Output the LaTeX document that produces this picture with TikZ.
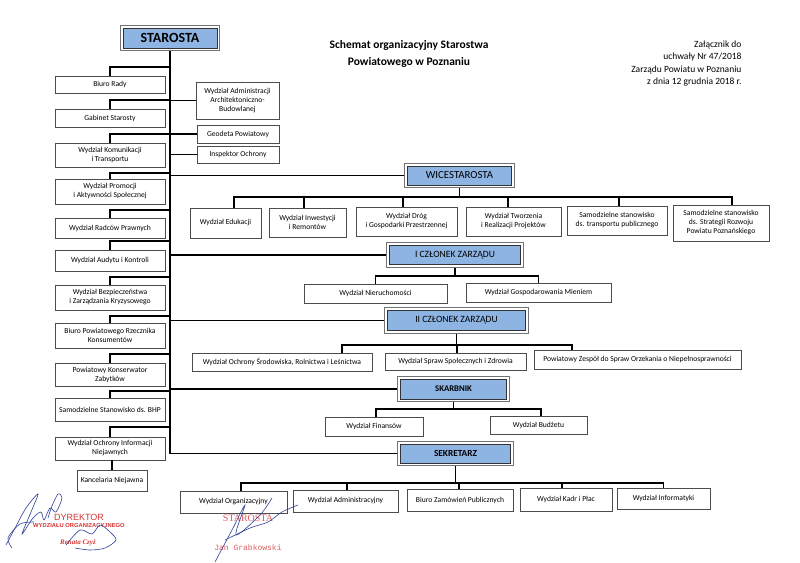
\documentclass[tikz,border=0pt]{standalone}
\usepackage{fontspec}
\setmainfont{Carlito}
\newfontfamily\stampfont{Liberation Sans}
\newfontfamily\stampserif{Liberation Serif}
\newfontfamily\stamptype{Liberation Mono}
\usetikzlibrary{fit}
\definecolor{headblue}{RGB}{142,180,227}
\definecolor{stampred}{RGB}{214,52,52}
\definecolor{ink}{RGB}{45,65,150}
\newcommand{\unitsize}{\fontsize{7.6}{9}\selectfont}
\tikzstyle{unit} = [rectangle, draw=black!70, line width=0.6pt, align=center, font=\unitsize, inner sep=1pt]
\tikzstyle{head} = [rectangle, fill=headblue, draw=black!80, line width=0.6pt, inner sep=0pt]
\tikzstyle{frame} = [rectangle, draw=black!55, line width=0.8pt, inner sep=2.5pt]
\tikzstyle{link} = [line width=1.5pt]

\begin{document}
\begin{tikzpicture}[x=1pt, y=-1pt]
\useasboundingbox (0,0) rectangle (800,562);

% title and annex note
\node (title) [align=center, font=\bfseries\fontsize{11.5}{17}\selectfont] at (409,53.5) {Schemat organizacyjny Starostwa\\Powiatowego w Poznaniu};
\node (annex) [anchor=east, align=right, font=\fontsize{9.5}{12.3}\selectfont] at (745,63.5) {Załącznik do\\uchwały Nr 47/2018\\Zarządu Powiatu w Poznaniu\\z dnia 12 grudnia 2018 r.};

% heads
\node (starosta) [head, minimum width=94, minimum height=20, font=\bfseries\fontsize{14}{14}\selectfont] at (170,38) {STAROSTA};
\node (starostaframe) [frame, fit=(starosta)] {};
\node (wice) [head, minimum width=104, minimum height=19, font=\fontsize{10.8}{10.8}\selectfont] at (459.5,175.5) {WICESTAROSTA};
\node (wiceframe) [frame, fit=(wice)] {};
\node (czlonekI) [head, minimum width=131, minimum height=19, font=\fontsize{9.6}{9.6}\selectfont] at (455,255) {I CZŁONEK ZARZĄDU};
\node (czlonekIframe) [frame, fit=(czlonekI)] {};
\node (czlonekII) [head, minimum width=138, minimum height=20, font=\fontsize{9.6}{9.6}\selectfont] at (456.5,320.5) {II CZŁONEK ZARZĄDU};
\node (czlonekIIframe) [frame, fit=(czlonekII)] {};
\node (skarbnik) [head, minimum width=106, minimum height=20, font=\bfseries\fontsize{8.7}{8.7}\selectfont] at (453.5,389) {SKARBNIK};
\node (skarbnikframe) [frame, fit=(skarbnik)] {};
\node (sekretarz) [head, minimum width=110, minimum height=19, font=\bfseries\fontsize{9.3}{9.3}\selectfont] at (455.5,453.5) {SEKRETARZ};
\node (sekretarzframe) [frame, fit=(sekretarz)] {};

% left column
\node (biuro) [unit, minimum width=110, minimum height=17] at (110,84.5) {Biuro Rady};
\node (gabinet) [unit, minimum width=110, minimum height=18] at (110,118) {Gabinet Starosty};
\node (komunikacja) [unit, minimum width=110, minimum height=24] at (110,155) {Wydział Komunikacji\\i Transportu};
\node (promocja) [unit, minimum width=110, minimum height=25] at (110,191.5) {Wydział Promocji\\i Aktywności Społecznej};
\node (radcy) [unit, minimum width=110, minimum height=20] at (110,228) {Wydział Radców Prawnych};
\node (audyt) [unit, minimum width=110, minimum height=21] at (110,260.5) {Wydział Audytu i Kontroli};
\node (bezpieczenstwo) [unit, minimum width=110, minimum height=25] at (110,297.5) {Wydział Bezpieczeństwa\\i Zarządzania Kryzysowego};
\node (rzecznik) [unit, minimum width=110, minimum height=25] at (110,335.5) {Biuro Powiatowego Rzecznika\\Konsumentów};
\node (konserwator) [unit, minimum width=110, minimum height=23] at (110,374.5) {Powiatowy Konserwator\\Zabytków};
\node (bhp) [unit, minimum width=110, minimum height=23] at (110,409.5) {Samodzielne Stanowisko ds. BHP};
\node (niejawne) [unit, minimum width=110, minimum height=23] at (110,448.5) {Wydział Ochrony Informacji\\Niejawnych};
\node (kancelaria) [unit, minimum width=70, minimum height=21] at (112,480.5) {Kancelaria Niejawna};

% right of the trunk
\node (adminarch) [unit, minimum width=83, minimum height=37] at (237.5,100.5) {Wydział Administracji\\Architektoniczno-\\Budowlanej};
\node (geodeta) [unit, minimum width=82, minimum height=18] at (238,134) {Geodeta Powiatowy};
\node (inspektor) [unit, minimum width=82, minimum height=17] at (238,154.5) {Inspektor Ochrony};

% wicestarosta
\node (edukacja) [unit, minimum width=71, minimum height=30] at (225.5,223) {Wydział Edukacji};
\node (inwestycje) [unit, minimum width=77, minimum height=29] at (307.5,222.5) {Wydział Inwestycji\\i Remontów};
\node (drogi) [unit, minimum width=101, minimum height=29] at (406.5,221.5) {Wydział Dróg\\i Gospodarki Przestrzennej};
\node (tworzenie) [unit, minimum width=95, minimum height=29] at (513.5,221.5) {Wydział Tworzenia\\i Realizacji Projektów};
\node (transport) [unit, minimum width=100, minimum height=29] at (617,220.5) {Samodzielne stanowisko\\ds. transportu publicznego};
\node (strategia) [unit, minimum width=96, minimum height=36] at (721,223) {Samodzielne stanowisko\\ds. Strategii Rozwoju\\Powiatu Poznańskiego};

% I czlonek
\node (nieruchomosci) [unit, minimum width=143, minimum height=19] at (375.5,293.5) {Wydział Nieruchomości};
\node (mienie) [unit, minimum width=145, minimum height=19] at (538.5,292.5) {Wydział Gospodarowania Mieniem};

% II czlonek
\node (srodowisko) [unit, minimum width=180, minimum height=18] at (282,362) {Wydział Ochrony Środowiska, Rolnictwa i Leśnictwa};
\node (sprawy) [unit, minimum width=141, minimum height=17] at (455.5,361.5) {Wydział Spraw Społecznych i Zdrowia};
\node (orzekanie) [unit, minimum width=207, minimum height=19] at (637.5,359.5) {Powiatowy Zespół do Spraw Orzekania o Niepełnosprawności};

% skarbnik
\node (finanse) [unit, minimum width=98, minimum height=19] at (374,426.5) {Wydział Finansów};
\node (budzet) [unit, minimum width=97, minimum height=18] at (538.5,425) {Wydział Budżetu};

% sekretarz
\node (organizacyjny) [unit, minimum width=107, minimum height=22] at (233.5,502) {Wydział Organizacyjny};
\node (administracyjny) [unit, minimum width=105, minimum height=22] at (345.5,501) {Wydział Administracyjny};
\node (zamowienia) [unit, minimum width=106, minimum height=22] at (460,500) {Biuro Zamówień Publicznych};
\node (kadry) [unit, minimum width=92, minimum height=23] at (566,499.5) {Wydział Kadr i Płac};
\node (informatyka) [unit, minimum width=93, minimum height=21] at (663.5,498.5) {Wydział Informatyki};

% trunk and branches
\draw [link] (starostaframe.south) -- (starostaframe.south |- sekretarzframe.west) -- (sekretarzframe.west);
\foreach \n/\y in {biuro/67, gabinet/100, komunikacja/134, promocja/173, radcy/210, audyt/241, bezpieczenstwo/277, rzecznik/316, konserwator/354, bhp/391, niejawne/427}
  \draw [link] (\n.north) |- (starostaframe.south |- 0,\y);
\foreach \n in {adminarch, geodeta, inspektor}
  \draw [link] (\n.west) -- (\n.west -| starostaframe.south);
\foreach \n in {wiceframe, czlonekIframe, czlonekIIframe, skarbnikframe}
  \draw [link] (\n.west) -- (\n.west -| starostaframe.south);
\draw [link] (niejawne.south -| kancelaria.north) -- (kancelaria.north);

\draw [link] (wiceframe.south) -- (wiceframe.south |- 0,197);
\foreach \n/\d in {edukacja/8.5, inwestycje/-3.5, drogi/-3.5, tworzenie/-5.5, transport/2, strategia/11}
  \draw [link] ([xshift=\d]\n.north) |- (wiceframe.south |- 0,197);
\draw [link] (czlonekIframe.south) -- (czlonekIframe.south |- 0,276);
\foreach \n/\d in {nieruchomosci/0, mienie/0}
  \draw [link] ([xshift=\d]\n.north) |- (czlonekIframe.south |- 0,276);
\draw [link] (czlonekIIframe.south) -- (czlonekIIframe.south |- 0,345);
\foreach \n/\d in {srodowisko/60, sprawy/1.5, orzekanie/-65.5}
  \draw [link] ([xshift=\d]\n.north) |- (czlonekIIframe.south |- 0,345);
\draw [link] (skarbnikframe.south) -- (skarbnikframe.south |- 0,409);
\foreach \n/\d in {finanse/2, budzet/2.5}
  \draw [link] ([xshift=\d]\n.north) |- (skarbnikframe.south |- 0,409);
\draw [link] (sekretarzframe.south) -- (sekretarzframe.south |- 0,483);
\foreach \n/\d in {organizacyjny/7.5, administracyjny/1.5, zamowienia/-1, kadry/-4, informatyka/0}
  \draw [link] ([xshift=\d]\n.north) |- (sekretarzframe.south |- 0,483);

% stamps and signatures
\node (dyrektor) [text=stampred, font=\stampfont\fontsize{9}{9}\selectfont] at (79,517) {DYREKTOR};
\node (wydzial) [text=stampred, font=\stampfont\bfseries\fontsize{5.8}{6}\selectfont] at (79,525) {WYDZIAŁU ORGANIZACYJNEGO};
\node (renata) [text=stampred, font=\stampserif\bfseries\itshape\fontsize{7}{7}\selectfont] at (78,543) {Renata Czyż};
\node (stamp) [text=stampred!80, font=\stampserif\fontsize{10}{10}\selectfont] at (248,518) {STAROSTA};
\node (grabkowski) [text=stampred!80, font=\stamptype\fontsize{8}{8}\selectfont] at (248,548) {Jan Grabkowski};

\draw [ink, line width=0.6pt] plot [smooth] coordinates {(6,545) (14,530) (26,508) (38,494) (31,512) (22,534) (33,518) (41,512) (44,520) (50,508) (56,512) (62,498) (58,494) (52,506) (48,518)};
\draw [ink, line width=0.6pt] plot [smooth] coordinates {(12,548) (8,538) (20,524) (34,522)};
\draw [ink, line width=0.6pt] plot [smooth] coordinates {(66,545) (80,530) (92,534) (100,525) (110,532) (116,540) (105,548) (90,550) (75,548)};
\draw [ink, line width=0.6pt] plot [smooth] coordinates {(215,562) (232,530) (245,505) (236,535) (260,515) (272,498)};
\draw [ink, line width=0.6pt] plot [smooth] coordinates {(225,540) (250,528) (268,522) (282,512) (298,505)};
\end{tikzpicture}
\end{document}
